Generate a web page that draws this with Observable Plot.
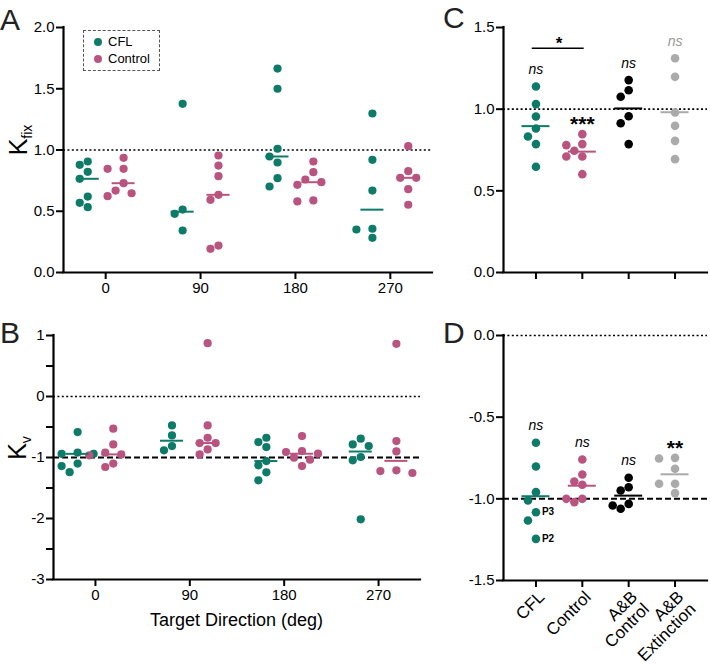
<!DOCTYPE html>
<html>
<head>
<meta charset="utf-8">
<script src="https://cdn.jsdelivr.net/npm/d3@7"></script>
<script src="https://cdn.jsdelivr.net/npm/@observablehq/plot@0.6"></script>
<style>
  body { margin: 0; background: #fff; }
  #fig { position: relative; width: 710px; height: 668px; overflow: hidden; background: #fff;
         font-family: "Liberation Sans", Arial, Helvetica, sans-serif; color: #000; }
  .panel { position: absolute; }
  .letter { position: absolute; font-size: 30px; line-height: 30px; color: #222; }
  .ylab { position: absolute; font-size: 25px; line-height: 25px; white-space: nowrap;
          transform: translate(-50%, -50%) rotate(-90deg); padding: 2px; }
  .ylab sub { font-size: 14px; line-height: 14px; vertical-align: -5px; }
  .xtitle { position: absolute; font-size: 18px; line-height: 18px; white-space: nowrap;
            transform: translate(-50%, -50%); }
  .legend { position: absolute; border: 1px dashed #555; box-sizing: border-box; font-size: 13px; }
  .legend .item { position: absolute; left: 0; white-space: nowrap; line-height: 14px; }
  .legend .sw { display: inline-block; width: 8px; height: 8px; border-radius: 50%; vertical-align: -0px; margin: 0 6px 0 10px; }
</style>
</head>
<body>
<div id="fig"></div>
<script>
// ---------------- DATA ----------------
const directions = [0, 90, 180, 270];
const groupsAB = ["CFL", "Control"];

// Panel A: K_fix by target direction (one array per direction)
const kfixCFL = [
  [0.906, 0.879, 0.822, 0.765, 0.620, 0.569, 0.533],
  [1.377, 0.514, 0.479, 0.343],
  [1.665, 1.500, 1.010, 0.947, 0.898, 0.770, 0.702],
  [1.298, 0.920, 0.669, 0.357, 0.351, 0.283]
];
const kfixControl = [
  [0.936, 0.846, 0.846, 0.729, 0.669, 0.647, 0.623],
  [0.955, 0.873, 0.786, 0.634, 0.593, 0.220, 0.193],
  [0.906, 0.819, 0.759, 0.737, 0.716, 0.588, 0.580],
  [1.031, 0.827, 0.773, 0.773, 0.680, 0.553]
];

// Panel B: K_v by target direction
const kvCFL = [
  [-0.583, -0.920, -0.940, -0.940, -1.100, -1.140, -1.240],
  [-0.474, -0.638, -0.812, -0.883],
  [-0.676, -0.747, -0.829, -1.058, -1.129, -1.243, -1.374],
  [-0.692, -0.785, -0.812, -0.992, -1.047, -2.013]
];
const kvControl = [
  [-0.528, -0.785, -0.921, -0.949, -0.965, -1.100, -1.156],
  [0.874, -0.474, -0.676, -0.763, -0.763, -0.867, -0.949],
  [-0.648, -0.894, -0.910, -0.938, -1.003, -1.036, -1.140],
  [0.864, -0.730, -0.900, -1.211, -1.222, -1.254]
];

// Panels C and D: groups
const groupsCD = ["CFL", "Control", "A&B Control", "A&B Extinction"];
const tickLabelsCD = ["CFL", "Control", "A&B\nControl", "A&B\nExtinction"];

const kfixC = [
  [1.139, 1.031, 0.955, 0.882, 0.833, 0.786, 0.647],
  [0.847, 0.786, 0.780, 0.745, 0.710, 0.710, 0.602],
  [1.178, 1.116, 1.076, 0.957, 0.914, 0.786],
  [1.312, 1.198, 0.980, 0.898, 0.806, 0.694]
];
const kvD = [
  [-0.657, -0.802, -0.959, -1.010, -1.082, -1.133, -1.245],
  [-0.759, -0.851, -0.894, -0.914, -1.000, -1.000, -1.020],
  [-0.871, -0.929, -0.949, -1.031, -1.041, -1.061],
  [-0.749, -0.753, -0.816, -0.908, -0.908, -0.965]
];
const pointLabelsD_CFL = ["", "", "", "", "P3", "", "P2"];

const sigC = ["ns", "***", "ns", "ns"];
const sigD = ["ns", "ns", "ns", "**"];
const bracketC = [{from: 0, to: 1, y: 1.373, label: "*"}];

const colorDomain = ["CFL", "Control", "A&B Control", "A&B Extinction"];
const colorRange = ["#0e7b69", "#b8547f", "#000000", "#aaaaaa"];
const sigColorC = ["#000", "#000", "#000", "#999"];
const sigColorD = ["#000", "#000", "#000", "#000"];

// ---------------- HELPERS ----------------
const FONT = '"Liberation Sans", Arial, Helvetica, sans-serif';
const fig = document.getElementById("fig");

function swarmOffsets(values, toPx, step, diam) {
  const order = d3.range(values.length).sort((a, b) => d3.descending(values[a], values[b]));
  const placed = [], off = [];
  for (const i of order) {
    const py = toPx(values[i]);
    for (const k of [0, -1, 1, -2, 2, -3, 3, -4, 4]) {
      const px = k * step;
      if (placed.every(p => Math.hypot(p[0] - px, p[1] - py) >= diam)) { off[i] = px; placed.push([px, py]); break; }
    }
  }
  return off;
}

function geom(g) {
  const innerW = g.width - g.ml - g.mr, innerH = g.height - g.mt - g.mb;
  g.pxX = innerW / (g.xd[1] - g.xd[0]);
  g.yPx = v => g.mt + (g.yd[1] - v) / (g.yd[1] - g.yd[0]) * innerH;
  return g;
}

function place(el, left, top) {
  el.classList.add("panel");
  el.style.left = left + "px";
  el.style.top = top + "px";
  fig.appendChild(el);
}

function baseAxes(g, yTicks, yFmt, xTicks, xFmt) {
  return [
    Plot.axisY({ticks: yTicks, tickFormat: yFmt, tickSize: 7, tickPadding: 2, strokeWidth: 2, label: null, fontSize: 15}),
    Plot.axisX({ticks: xTicks, tickFormat: xFmt, tickSize: 7, tickPadding: 3, strokeWidth: 2, label: null, fontSize: 15}),
    Plot.ruleX([g.xd[0]], {strokeWidth: 2.2, strokeLinecap: "square"}),
    Plot.ruleY([g.yd[0]], {strokeWidth: 2.2, strokeLinecap: "square"})
  ];
}

// ---------------- PANELS A & B ----------------
function directionPanel(g, cflVals, ctlVals, refLines, yTicks, yFmt, minorTicks) {
  geom(g);
  const shift = 17; // deg between tick and each group's column
  const rows = [], stats = [];
  directions.forEach((dir, i) => {
    [["CFL", cflVals[i], -1], ["Control", ctlVals[i], 1]].forEach(([grp, vals, side]) => {
      const off = swarmOffsets(vals, g.yPx, 8, 8.6);
      const c = dir + side * shift;
      vals.forEach((v, j) => rows.push({group: grp, value: v, x: c + off[j] / g.pxX}));
      stats.push({group: grp, stat: d3.median(vals), x: c});
    });
  });
  const hw = 11.5 / g.pxX;
  const marks = [
    ...refLines.map(r => Plot.ruleY([r.y], {strokeDasharray: r.dash, strokeWidth: r.w, stroke: "#000"})),
    Plot.dot(rows, {x: "x", y: "value", r: 4.1, fill: "group"}),
    Plot.ruleY(stats, {y: "stat", x1: d => d.x - hw, x2: d => d.x + hw, stroke: "group", strokeWidth: 2}),
    ...baseAxes(g, yTicks, yFmt, directions, d => String(d))
  ];
  if (minorTicks) marks.push(Plot.axisY({ticks: minorTicks, tickFormat: () => "", tickSize: 7, strokeWidth: 2, label: null}));
  return Plot.plot({
    width: g.width, height: g.height,
    marginLeft: g.ml, marginRight: g.mr, marginTop: g.mt, marginBottom: g.mb,
    style: {fontFamily: FONT, fontSize: "15px", color: "#000", background: "transparent", overflow: "visible"},
    x: {domain: g.xd},
    y: {domain: g.yd},
    color: {domain: colorDomain, range: colorRange},
    marks
  });
}

const gA = {width: 440, height: 300, ml: 63, mr: 8, mt: 27, mb: 28, xd: [-40, 310], yd: [0, 2]};
const plotA = directionPanel(gA, kfixCFL, kfixControl,
  [{y: 1, dash: "2,2.4", w: 1.6}],
  [0, 0.5, 1, 1.5, 2], d => d.toFixed(1), null);
place(plotA, 0, 0);

const gB = {width: 440, height: 340, ml: 53, mr: 20, mt: 35, mb: 61, xd: [-40, 310], yd: [-3, 1]};
const plotB = directionPanel(gB, kvCFL, kvControl,
  [{y: 0, dash: "2,2.4", w: 1.6}, {y: -1, dash: "6,3", w: 2}],
  [1, 0, -1, -2, -3], d => String(d).replace("\u2212", "-"), [0.5, -0.5, -1.5, -2.5]);
place(plotB, 0, 300);

// ---------------- PANELS C & D ----------------
function groupPanel(g, vals, refLines, yTicks, sig, sigColor, extra, xLabels) {
  geom(g);
  const rows = [], stats = [];
  vals.forEach((vs, i) => {
    const off = swarmOffsets(vs, g.yPx, 8, 8.6);
    vs.forEach((v, j) => rows.push({group: groupsCD[i], value: v, x: i + off[j] / g.pxX, idx: j, gi: i}));
    stats.push({group: groupsCD[i], stat: d3.mean(vs), max: d3.max(vs), x: i, sig: sig[i], sigColor: sigColor[i]});
  });
  const hw = 14 / g.pxX;
  const ns = stats.filter(d => d.sig === "ns");
  const stars = stats.filter(d => d.sig !== "ns");
  const marks = [
    ...refLines.map(r => Plot.ruleY([r.y], {strokeDasharray: r.dash, strokeWidth: r.w, stroke: "#000"})),
    Plot.dot(rows, {x: "x", y: "value", r: 4.3, fill: "group"}),
    Plot.ruleY(stats, {y: "stat", x1: d => d.x - hw, x2: d => d.x + hw, stroke: "group", strokeWidth: 2}),
    Plot.text(ns, {x: "x", y: "max", text: "sig", fill: "sigColor", dy: -17, fontStyle: "italic", fontSize: 14}),
    Plot.text(stars, {x: "x", y: "max", text: "sig", fill: "sigColor", dy: -10, fontWeight: "bold", fontSize: 21}),
    ...baseAxes(g, yTicks, d => d.toFixed(1).replace("\u2212", "-"), [0, 1, 2, 3], () => "")
  ];
  if (xLabels) {
    marks.push(Plot.text(d3.range(4), {x: d => d, y: () => g.yd[0], text: d => xLabels[d],
      rotate: -45, textAnchor: "end", lineAnchor: "top", dx: 1, dy: 9, fontSize: 17, lineHeight: 1.0}));
  }
  if (extra) marks.push(...extra(rows, stats));
  return Plot.plot({
    width: g.width, height: g.height,
    marginLeft: g.ml, marginRight: g.mr, marginTop: g.mt, marginBottom: g.mb,
    style: {fontFamily: FONT, fontSize: "15px", color: "#000", background: "transparent", overflow: "visible"},
    x: {domain: g.xd},
    y: {domain: g.yd},
    color: {domain: colorDomain, range: colorRange},
    marks
  });
}

const gC = {width: 260, height: 300, ml: 53, mr: 3, mt: 27, mb: 28, xd: [-0.7, 3.7], yd: [0, 1.5]};
const plotC = groupPanel(gC, kfixC, [{y: 1, dash: "2,2.4", w: 1.6}], [0, 0.5, 1, 1.5], sigC, sigColorC,
  () => [
    Plot.ruleY(bracketC, {y: "y", x1: d => d.from - 0.08, x2: d => d.to + 0.04, strokeWidth: 1.5}),
    Plot.text(bracketC, {x: d => (d.from + d.to) / 2, y: "y", text: "label", dy: -5, fontWeight: "bold", fontSize: 17})
  ], null);
place(plotC, 450, 0);

const gD = {width: 260, height: 368, ml: 53, mr: 3, mt: 35, mb: 88, xd: [-0.7, 3.7], yd: [-1.5, 0]};
const plotD = groupPanel(gD, kvD, [{y: 0, dash: "2,2.4", w: 1.6}, {y: -1, dash: "6,3", w: 2}],
  [0, -0.5, -1, -1.5], sigD, sigColorD,
  rows => [
    Plot.text(rows.filter(r => r.gi === 0 && pointLabelsD_CFL[r.idx]),
      {x: "x", y: "value", text: r => pointLabelsD_CFL[r.idx], dx: 6, textAnchor: "start", fontSize: 10, fontWeight: "bold"})
  ], tickLabelsCD);
place(plotD, 450, 300);

// ---------------- TEXT: letters, axis titles, legend ----------------
function addDiv(cls, html, left, top) {
  const d = document.createElement("div");
  d.className = cls; d.innerHTML = html;
  d.style.left = left + "px"; d.style.top = top + "px";
  fig.appendChild(d);
  return d;
}
addDiv("letter", "A", 0, 5);
addDiv("letter", "B", 0, 318);
addDiv("letter", "C", 443, 3);
addDiv("letter", "D", 443, 318);
addDiv("ylab", "K<sub>fix</sub>", 20, 140);
addDiv("ylab", "K<sub>v</sub>", 19, 448);
addDiv("xtitle", "Target Direction (deg)", 236.5, 620);

const legend = addDiv("legend", "", 83, 30);
legend.style.width = "77px"; legend.style.height = "41px";
groupsAB.forEach((g, i) => {
  const it = document.createElement("div");
  it.className = "item";
  it.style.top = (4 + i * 16.5) + "px";
  it.innerHTML = `<span class="sw" style="background:${colorRange[colorDomain.indexOf(g)]}"></span>${g}`;
  legend.appendChild(it);
});
</script>
</body>
</html>
